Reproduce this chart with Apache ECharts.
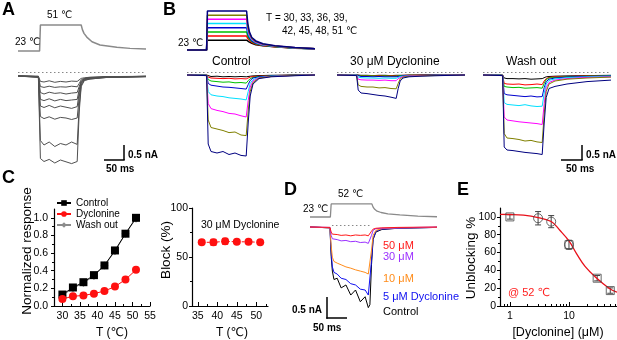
<!DOCTYPE html>
<html>
<head>
<meta charset="utf-8">
<script src="https://cdn.jsdelivr.net/npm/echarts@6/dist/echarts.min.js"></script>
<style>
html, body { margin: 0; padding: 0; background: #fff; }
#chart { width: 617px; height: 340px; }
</style>
</head>
<body>
<div id="chart"></div>
<script>
// ---------- panel A : 51 C step, grey traces ----------
const tA_temp = [0, 54, 56, 158, 161, 165, 172, 185, 205, 247, 280, 320];
const tempA = [23, 23, 51, 51, 46, 42, 38, 33, 29.5, 27, 25.8, 25];
const tA = [0, 51, 56, 65, 78, 92, 106, 120, 134, 148, 153, 158, 166, 180, 220, 320];
const curA = [
  [0, -0.01, -0.18, -0.2, -0.16, -0.21, -0.18, -0.2, -0.17, -0.18, -0.12, -0.08, -0.06, -0.04, -0.02, -0.01],
  [0, -0.01, -0.35, -0.38, -0.34, -0.38, -0.36, -0.37, -0.34, -0.36, -0.25, -0.13, -0.08, -0.05, -0.03, -0.01],
  [0, -0.02, -0.55, -0.6, -0.54, -0.58, -0.56, -0.6, -0.57, -0.55, -0.35, -0.17, -0.09, -0.06, -0.03, -0.01],
  [0, -0.02, -0.78, -0.82, -0.76, -0.83, -0.78, -0.82, -0.8, -0.78, -0.45, -0.2, -0.1, -0.07, -0.04, -0.01],
  [0, -0.02, -1.0, -1.05, -0.98, -1.06, -1.0, -1.04, -1.08, -1.02, -0.55, -0.22, -0.1, -0.07, -0.04, -0.02],
  [0, -0.03, -1.35, -1.42, -1.36, -1.44, -1.38, -1.4, -1.45, -1.4, -0.7, -0.25, -0.12, -0.08, -0.04, -0.02],
  [0, -0.04, -2.15, -2.3, -2.2, -2.35, -2.25, -2.3, -2.2, -2.28, -1.0, -0.3, -0.14, -0.1, -0.05, -0.02],
  [0, -0.05, -2.75, -2.85, -2.78, -2.9, -2.8, -2.86, -2.92, -2.85, -1.2, -0.35, -0.15, -0.1, -0.05, -0.02]
];

// ---------- panel B : 30..51 C, control / dyclonine / wash out ----------
const bColors = ['#000000', '#ff0000', '#00c000', '#0000cd', '#00e0ff', '#ff00ff', '#808000', '#000080'];
const tB_temp = [0, 49, 51, 149, 152, 156, 162, 172, 190, 220, 270, 320];
const tempB = [
  [23, 23, 30, 30, 29.2, 28.6, 27.8, 26.8, 26, 25.3, 24.3, 23.8],
  [23, 23, 33, 33, 31.3, 30, 28.5, 27.2, 26.2, 25.4, 24.4, 23.8],
  [23, 23, 36, 36, 33, 31, 29.2, 27.6, 26.4, 25.5, 24.4, 23.8],
  [23, 23, 39, 39, 35, 32, 29.8, 28, 26.6, 25.6, 24.5, 23.8],
  [23, 23, 42, 42, 36.5, 33, 30.5, 28.4, 26.8, 25.7, 24.5, 23.9],
  [23, 23, 45, 45, 38.5, 34, 31, 28.7, 27, 25.8, 24.6, 23.9],
  [23, 23, 48, 48, 40, 35, 31.5, 29, 27.2, 25.9, 24.6, 23.9],
  [23, 23, 51, 51, 42, 36, 32, 29.5, 27.5, 26, 24.7, 23.9]
];
const tB = [0, 49, 53, 60, 75, 90, 105, 120, 135, 148, 153, 158, 165, 180, 210, 260, 320];
const curCtrl = [
  [0, 0, -0.03, -0.05, -0.04, -0.06, -0.05, -0.06, -0.05, -0.06, -0.05, -0.04, -0.03, -0.02, -0.01, 0, 0],
  [0, 0, -0.07, -0.1, -0.11, -0.12, -0.11, -0.13, -0.12, -0.13, -0.1, -0.07, -0.05, -0.04, -0.02, -0.01, 0],
  [0, -0.01, -0.15, -0.2, -0.22, -0.24, -0.23, -0.26, -0.25, -0.27, -0.19, -0.12, -0.08, -0.05, -0.03, -0.01, 0],
  [0, -0.01, -0.28, -0.34, -0.37, -0.4, -0.41, -0.43, -0.45, -0.47, -0.32, -0.18, -0.1, -0.06, -0.03, -0.01, 0],
  [0, -0.01, -0.55, -0.66, -0.7, -0.72, -0.76, -0.78, -0.8, -0.83, -0.55, -0.28, -0.15, -0.08, -0.04, -0.02, 0],
  [0, -0.02, -0.95, -1.12, -1.18, -1.22, -1.28, -1.3, -1.36, -1.4, -0.85, -0.4, -0.2, -0.09, -0.05, -0.02, 0],
  [0, -0.02, -1.5, -1.75, -1.8, -1.85, -1.92, -1.9, -2.0, -2.02, -1.2, -0.55, -0.25, -0.1, -0.05, -0.02, 0],
  [0, -0.02, -2.3, -2.55, -2.6, -2.55, -2.65, -2.6, -2.68, -2.7, -1.6, -0.7, -0.3, -0.12, -0.06, -0.03, 0]
];
const curDyc = [
  [0, 0, -0.01, -0.01, -0.01, -0.02, -0.01, -0.01, -0.02, -0.01, -0.01, -0.01, -0.01, 0, 0, 0, 0],
  [0, 0, -0.01, -0.02, -0.02, -0.02, -0.02, -0.03, -0.02, -0.03, -0.02, -0.02, -0.01, -0.01, 0, 0, 0],
  [0, 0, -0.02, -0.03, -0.03, -0.03, -0.04, -0.03, -0.04, -0.04, -0.03, -0.02, -0.02, -0.01, -0.01, 0, 0],
  [0, 0, -0.04, -0.05, -0.05, -0.06, -0.05, -0.06, -0.06, -0.06, -0.05, -0.04, -0.03, -0.02, -0.01, 0, 0],
  [0, 0, -0.07, -0.09, -0.1, -0.1, -0.11, -0.1, -0.11, -0.11, -0.08, -0.05, -0.04, -0.03, -0.02, -0.01, 0],
  [0, -0.01, -0.14, -0.16, -0.17, -0.17, -0.18, -0.17, -0.19, -0.19, -0.12, -0.07, -0.05, -0.03, -0.02, -0.01, 0],
  [0, -0.01, -0.33, -0.38, -0.4, -0.4, -0.43, -0.42, -0.45, -0.46, -0.28, -0.13, -0.07, -0.04, -0.03, -0.01, 0],
  [0, -0.02, -0.5, -0.6, -0.62, -0.65, -0.68, -0.7, -0.74, -0.78, -0.45, -0.2, -0.1, -0.06, -0.04, -0.02, 0]
];
const curWash = [
  [0, 0, -0.1, -0.12, -0.12, -0.13, -0.12, -0.14, -0.13, -0.12, -0.09, -0.06, -0.05, -0.04, -0.03, -0.02, -0.01],
  [0, 0, -0.28, -0.3, -0.31, -0.3, -0.33, -0.32, -0.3, -0.32, -0.2, -0.12, -0.08, -0.06, -0.05, -0.03, -0.02],
  [0, -0.01, -0.38, -0.4, -0.42, -0.41, -0.44, -0.43, -0.42, -0.44, -0.28, -0.15, -0.1, -0.08, -0.06, -0.04, -0.02],
  [0, -0.01, -0.62, -0.66, -0.68, -0.7, -0.72, -0.7, -0.73, -0.72, -0.42, -0.22, -0.14, -0.1, -0.07, -0.05, -0.03],
  [0, -0.01, -0.92, -0.98, -1.0, -1.02, -0.99, -1.03, -1.05, -1.04, -0.6, -0.3, -0.18, -0.13, -0.09, -0.06, -0.04],
  [0, -0.02, -1.4, -1.5, -1.53, -1.56, -1.58, -1.6, -1.62, -1.65, -0.95, -0.42, -0.25, -0.17, -0.12, -0.08, -0.06],
  [0, -0.02, -1.95, -2.1, -2.12, -2.15, -2.2, -2.18, -2.23, -2.25, -1.3, -0.55, -0.3, -0.2, -0.14, -0.1, -0.07],
  [0, -0.02, -2.4, -2.5, -2.52, -2.55, -2.58, -2.6, -2.62, -2.65, -1.6, -0.75, -0.45, -0.38, -0.3, -0.22, -0.17]
];

// ---------- panel C ----------
const tempC = [30, 33, 36, 39, 42, 45, 48, 51];
const ctrlResp = [0.13, 0.21, 0.27, 0.35, 0.46, 0.63, 0.82, 1.0];
const dycResp = [0.08, 0.11, 0.12, 0.14, 0.17, 0.22, 0.30, 0.41];
const washResp = [0.12, 0.20, 0.26, 0.34, 0.46, 0.62, 0.82, 0.99];
const cXTicks = [30, 35, 40, 45, 50, 55];
const cYTicks = [0, 0.2, 0.4, 0.6, 0.8, 1.0];
const blockT = [36, 39, 42, 45, 48, 51];
const blockVal = [65, 65, 66, 65.5, 65.5, 65];
const blockErr = [2, 3, 3, 1.2, 1.2, 1.2];
const blockXTicks = [35, 40, 45, 50];
const blockYTicks = [0, 50, 100];

// ---------- panel D : 52 C, dyclonine doses ----------
const tD_temp = [0, 51, 53, 155, 158, 162, 168, 178, 195, 225, 270, 318];
const tempD = [23, 23, 52, 52, 45, 40, 36, 33, 30, 27.5, 25, 23.5];
const tD = [0, 50, 53, 56, 60, 68, 78, 90, 102, 114, 126, 138, 146, 150, 154, 158, 165, 180, 220, 318];
const doseNames = ['Control', '5 μM Dyclonine', '10 μM', '30 μM', '50 μM'];
const doseColors = ['#000000', '#1010f0', '#ff8c1a', '#9b30ff', '#ff1a1a'];
const curD = [
  [0, -0.02, -0.7, -1.05, -1.25, -1.22, -1.45, -1.38, -1.62, -1.5, -1.78, -1.66, -1.92, -1.85, -0.9, -0.3, -0.12, -0.06, -0.03, -0.01],
  [0, -0.02, -0.6, -0.95, -1.08, -1.12, -1.22, -1.25, -1.35, -1.38, -1.48, -1.5, -1.62, -1.64, -0.8, -0.28, -0.1, -0.05, -0.03, -0.01],
  [0, -0.02, -0.45, -0.72, -0.82, -0.86, -0.9, -0.95, -0.98, -1.02, -1.05, -1.08, -1.12, -1.14, -0.55, -0.2, -0.08, -0.04, -0.02, -0.01],
  [0, -0.01, -0.2, -0.28, -0.31, -0.3, -0.33, -0.32, -0.35, -0.34, -0.37, -0.36, -0.39, -0.38, -0.2, -0.08, -0.04, -0.03, -0.02, 0],
  [0, -0.01, -0.12, -0.17, -0.19, -0.18, -0.2, -0.19, -0.21, -0.19, -0.2, -0.19, -0.21, -0.2, -0.1, -0.05, -0.03, -0.02, -0.01, 0]
];

// ---------- panel E : dose response ----------
const sqConc = [1, 10, 30, 50];
const sqVal = [100, 68.8, 31.2, 17.3];
const circConc = [3, 5, 10];
const circVal = [98.5, 94.7, 68.8];
const errConc = [1, 3, 5, 10, 30, 50];
const errVal = [100, 98.5, 94.7, 68.8, 31.2, 17.3];
const errSize = [2.5, 7.5, 6.8, 5, 3, 3];
const fitConc = [0.68, 1, 1.7, 3, 5, 7, 10, 13.5, 18.7, 28.6, 47.6, 65];
const fitVal = [102.8, 102.7, 102, 99.3, 94.8, 85, 73, 58.5, 44.5, 32, 20, 15.5];
const eXMajor = [1, 10];
const eXMinor = [0.7, 0.8, 0.9, 2, 3, 4, 5, 6, 7, 8, 9, 20, 30, 40, 50, 60];
const eYTicks = [0, 20, 40, 60, 80, 100];
const eYMinor = [10, 30, 50, 70, 90];

const baseRefB = 0.1;   // dotted reference line above the baseline
const baseRefD = 0.03;

const FONT = '"Liberation Sans", Arial, "DejaVu Sans", "Noto Sans CJK SC", sans-serif';
const chart = echarts.init(document.getElementById('chart'));

const grids = [], xAxes = [], yAxes = [], series = [];

function addPanel(box, xmin, xmax, ymin, ymax) {
  grids.push(box);
  const g = grids.length - 1;
  xAxes.push({ gridIndex: g, type: 'value', show: false, min: xmin, max: xmax });
  yAxes.push({ gridIndex: g, type: 'value', show: false, min: ymin, max: ymax });
  return { g: g, x: xAxes.length - 1, y: yAxes.length - 1 };
}

function addTraces(ax, t, list, colors, width, refY, refFrom, refTo) {
  list.forEach(function (ys, i) {
    series.push({
      type: 'line', xAxisIndex: ax.x, yAxisIndex: ax.y,
      showSymbol: false, silent: true, animation: false,
      data: t.map(function (v, k) { return [v, ys[k]]; }),
      lineStyle: { color: Array.isArray(colors) ? colors[i] : colors, width: width }
    });
  });
  if (refY !== undefined) {
    series[series.length - 1].markLine = {
      silent: true, symbol: 'none', label: { show: false },
      lineStyle: { color: '#888', type: [1.5, 2.5], width: 1 },
      data: [[{ coord: [refFrom, refY] }, { coord: [refTo, refY] }]]
    };
  }
}

function errBars(ax, xs, ys, es, color) {
  series.push({
    type: 'custom', xAxisIndex: ax.x, yAxisIndex: ax.y, silent: true, z: 1,
    data: xs.map(function (x, i) { return [x, ys[i], es[i]]; }),
    renderItem: function (params, api) {
      const x = api.value(0), y = api.value(1), e = api.value(2);
      const a = api.coord([x, y + e]), b = api.coord([x, y - e]);
      const st = { stroke: color, lineWidth: 1 };
      return { type: 'group', children: [
        { type: 'line', shape: { x1: a[0], y1: a[1], x2: b[0], y2: b[1] }, style: st },
        { type: 'line', shape: { x1: a[0] - 3, y1: a[1], x2: a[0] + 3, y2: a[1] }, style: st },
        { type: 'line', shape: { x1: b[0] - 3, y1: b[1], x2: b[0] + 3, y2: b[1] }, style: st }
      ] };
    }
  });
}

// visible axis pair for the summary plots (minor ticks on a second, label-less axis)
function addPlot(box, xa, ya) {
  grids.push(box);
  const g = grids.length - 1;
  const line = { show: true, lineStyle: { color: '#000', width: 1.2 } };
  xAxes.push(Object.assign({ gridIndex: g, position: 'bottom', splitLine: { show: false }, axisLine: line,
    axisTick: { inside: true, length: 4, customValues: xa.ticks, lineStyle: { color: '#000' } },
    axisLabel: { customValues: xa.ticks, color: '#000', fontSize: 10.5, fontFamily: FONT, margin: 5 } }, xa.opt));
  yAxes.push(Object.assign({ gridIndex: g, position: 'left', splitLine: { show: false }, axisLine: line,
    axisTick: { inside: false, length: 3, customValues: ya.ticks, lineStyle: { color: '#000' } },
    axisLabel: { customValues: ya.ticks, color: '#000', fontSize: 10.5, fontFamily: FONT, margin: ya.margin || 4,
      formatter: ya.fmt } }, ya.opt));
  const ax = { g: g, x: xAxes.length - 1, y: yAxes.length - 1 };
  if (xa.minor) {
    xAxes.push(Object.assign({ gridIndex: g, position: 'bottom', axisLine: { show: false }, axisLabel: { show: false },
      splitLine: { show: false },
      axisTick: { inside: true, length: 2, customValues: xa.minor, lineStyle: { color: '#000' } } }, xa.opt));
  }
  if (ya.minor) {
    yAxes.push(Object.assign({ gridIndex: g, position: 'left', axisLine: { show: false }, axisLabel: { show: false },
      splitLine: { show: false },
      axisTick: { inside: false, length: 2, customValues: ya.minor, lineStyle: { color: '#000' } } }, ya.opt));
  }
  return ax;
}

// ---- A ----
const aT = addPanel({ left: 18, top: 20.4, width: 128, height: 35.2 }, 0, 320, 18, 56);
addTraces(aT, tA_temp, [tempA], '#8a8a8a', 1.5);
const aI = addPanel({ left: 18, top: 66, width: 128, height: 100 }, 0, 320, -3, 1 / 3);
addTraces(aI, tA, curA, '#505050', 1, 0.13, 0, 320);

// ---- B ----
const bT = addPanel({ left: 187, top: 5, width: 128, height: 50 }, 0, 320, 19.4, 55.3);
addTraces(bT, tB_temp, tempB, bColors, 1.5);
const bC = addPanel({ left: 187, top: 65, width: 128, height: 100 }, 0, 320, -3, 1 / 3);
addTraces(bC, tB, curCtrl, bColors, 1, baseRefB, 0, 320);
const bD = addPanel({ left: 337, top: 65, width: 128, height: 100 }, 0, 320, -3, 1 / 3);
addTraces(bD, tB, curDyc, bColors, 1, baseRefB, 0, 320);
const bW = addPanel({ left: 483, top: 65, width: 128, height: 100 }, 0, 320, -3, 1 / 3);
addTraces(bW, tB, curWash, bColors, 1, baseRefB, 0, 320);

// ---- C left ----
const cL = addPlot({ left: 54, top: 209, width: 96, height: 97 },
  { ticks: cXTicks, minor: [32.5, 37.5, 42.5, 47.5, 52.5], opt: { type: 'value', min: 27.6, max: 55 } },
  { ticks: cYTicks, minor: [0.1, 0.3, 0.5, 0.7, 0.9], margin: 6, fmt: function (v) { return v.toFixed(1); },
    opt: { type: 'value', min: 0, max: 1.1 } });
const sym = { showSymbol: true, animation: false, xAxisIndex: cL.x, yAxisIndex: cL.y };
series.push(Object.assign({ type: 'line', name: 'Wash out', symbol: 'diamond', symbolSize: 8,
  itemStyle: { color: '#8c8c8c' }, lineStyle: { color: '#8c8c8c', width: 1 },
  data: tempC.map(function (t, i) { return [t, washResp[i]]; }) }, sym));
series.push(Object.assign({ type: 'line', name: 'Control', symbol: 'rect', symbolSize: 8,
  itemStyle: { color: '#000' }, lineStyle: { color: '#000', width: 1 },
  data: tempC.map(function (t, i) { return [t, ctrlResp[i]]; }) }, sym));
series.push(Object.assign({ type: 'line', name: 'Dyclonine', symbol: 'circle', symbolSize: 8,
  itemStyle: { color: '#ff1010' }, lineStyle: { color: '#ff1010', width: 1 },
  data: tempC.map(function (t, i) { return [t, dycResp[i]]; }) }, sym));

// ---- C right ----
const cR = addPlot({ left: 192, top: 208, width: 76, height: 98 },
  { ticks: blockXTicks, minor: [37.5, 42.5, 47.5, 52.5], opt: { type: 'value', min: 33.5, max: 53 } },
  { ticks: blockYTicks, minor: [25, 75], opt: { type: 'value', min: 0, max: 100 } });
errBars(cR, blockT, blockVal, blockErr, '#ff1010');
series.push({ type: 'line', xAxisIndex: cR.x, yAxisIndex: cR.y, symbol: 'circle', symbolSize: 8, animation: false,
  itemStyle: { color: '#ff1010' }, lineStyle: { color: '#ff1010', width: 1, type: [3, 2] },
  data: blockT.map(function (t, i) { return [t, blockVal[i]]; }) });

// ---- D ----
const dT = addPanel({ left: 310, top: 195, width: 127, height: 27 }, 0, 318, 11.8, 72);
addTraces(dT, tD_temp, [tempD], '#8a8a8a', 1.3);
const dI = addPanel({ left: 310, top: 220, width: 127, height: 99.4 }, 0, 318, -2.2, 1 / 6);
addTraces(dI, tD, curD, doseColors, 1, baseRefD, 55, 150);

// ---- E ----
const eP = addPlot({ left: 500, top: 208, width: 117, height: 98 },
  { ticks: eXMajor, minor: eXMinor, opt: { type: 'log', logBase: 10, min: 0.68, max: 65 } },
  { ticks: eYTicks, minor: eYMinor, opt: { type: 'value', min: 0, max: 110 } });
series.push({ type: 'line', xAxisIndex: eP.x, yAxisIndex: eP.y, showSymbol: false, smooth: 0.4, animation: false,
  lineStyle: { color: '#e8101a', width: 1.3 }, z: 3,
  data: fitConc.map(function (c, i) { return [c, fitVal[i]]; }) });
errBars(eP, errConc, errVal, errSize, '#444');
series.push({ type: 'scatter', xAxisIndex: eP.x, yAxisIndex: eP.y, symbol: 'rect', symbolSize: 8, z: 4,
  itemStyle: { color: 'rgba(255,255,255,0)', borderColor: '#444', borderWidth: 1 },
  data: sqConc.map(function (c, i) { return [c, sqVal[i]]; }) });
series.push({ type: 'scatter', xAxisIndex: eP.x, yAxisIndex: eP.y, symbol: 'circle', symbolSize: 9, z: 4,
  itemStyle: { color: 'rgba(255,255,255,0)', borderColor: '#444', borderWidth: 1 },
  data: circConc.map(function (c, i) { return [c, circVal[i]]; }) });

// ---------- texts and scale bars ----------
function txt(x, y, s, size, extra) {
  return { type: 'text', x: x, y: y, z: 50, silent: true,
    style: Object.assign({ text: s, fill: '#000', font: size + 'px ' + FONT, verticalAlign: 'middle' }, extra || {}) };
}
function bold(x, y, s, size, extra) {
  return txt(x, y, s, size, Object.assign({ font: 'bold ' + size + 'px ' + FONT }, extra || {}));
}
function vtxt(x, y, s, size) {
  return { type: 'text', x: x, y: y, rotation: Math.PI / 2, z: 50, silent: true,
    style: { text: s, fill: '#000', font: size + 'px ' + FONT, align: 'center', verticalAlign: 'middle' } };
}
function seg(x1, y1, x2, y2) {
  return { type: 'line', z: 50, silent: true, shape: { x1: x1, y1: y1, x2: x2, y2: y2 }, style: { stroke: '#000', lineWidth: 1.5 } };
}

const graphics = [
  bold(2, 10, 'A', 18), bold(163, 10, 'B', 18), bold(2, 178, 'C', 18), bold(284, 190, 'D', 18), bold(457, 190, 'E', 18),
  // A
  txt(47, 15, '51 ℃', 10), txt(15, 42, '23 ℃', 10),
  seg(124, 145, 124, 160), seg(104, 160, 124.7, 160), bold(128, 155, '0.5 nA', 10), bold(106, 169, '50 ms', 10),
  // B
  txt(178, 43, '23 ℃', 10), txt(266, 18, 'T = 30, 33, 36, 39,', 10), txt(282, 31, '42, 45, 48, 51 ℃', 10),
  txt(212, 62, 'Control', 12), txt(350, 62, '30 μM Dyclonine', 12), txt(506, 62, 'Wash out', 12),
  seg(582, 145, 582, 160), seg(561, 160, 582.7, 160), bold(586, 155, '0.5 nA', 10), bold(566, 169, '50 ms', 10),
  // C
  vtxt(27, 251, 'Normalized response', 13.5), txt(112, 333, 'T (℃)', 12, { align: 'center' }),
  vtxt(166, 250, 'Block (%)', 13.5), txt(232, 333, 'T (℃)', 12, { align: 'center' }),
  txt(201, 225, '30 μM Dyclonine', 10.5),
  // D
  txt(338, 194, '52 ℃', 10), txt(303, 209, '23 ℃', 10),
  txt(383, 246, doseNames[4], 11, { fill: doseColors[4] }),
  txt(383, 257, doseNames[3], 11, { fill: doseColors[3] }),
  txt(383, 279, doseNames[2], 11, { fill: doseColors[2] }),
  txt(383, 297, doseNames[1], 11, { fill: doseColors[1] }),
  txt(383, 312, doseNames[0], 11, { fill: doseColors[0] }),
  seg(327, 297, 327, 318.7), seg(326.3, 318, 347, 318),
  bold(322, 310, '0.5 nA', 10, { align: 'right' }), bold(313, 328, '50 ms', 10),
  // E
  vtxt(471, 258, 'Unblocking %', 13.5), txt(558, 333, '[Dyclonine] (μM)', 12.5, { align: 'center' }),
  txt(508, 293, '@ 52 ℃', 11, { fill: '#ff2020' })
];

chart.setOption({
  animation: false,
  backgroundColor: '#fff',
  textStyle: { fontFamily: FONT },
  grid: grids,
  xAxis: xAxes,
  yAxis: yAxes,
  legend: {
    data: ['Control', 'Dyclonine', 'Wash out'], orient: 'vertical', left: 56, top: 198,
    itemWidth: 14, itemHeight: 7, itemGap: 1, padding: 0, selectedMode: false,
    textStyle: { fontSize: 10, fontFamily: FONT, color: '#000' }
  },
  series: series,
  graphic: graphics
});
</script>
</body>
</html>
